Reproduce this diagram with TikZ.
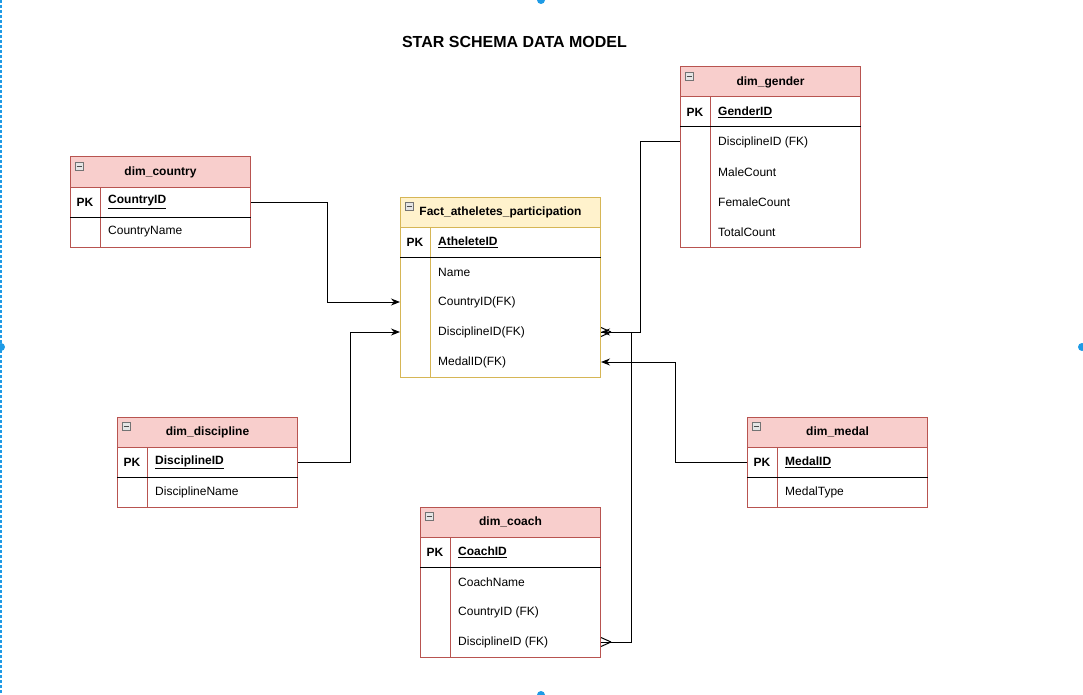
\documentclass[tikz,border=0pt]{standalone}
\usepackage{fontspec}
\setmainfont{Liberation Sans}
\usetikzlibrary{arrows.meta,calc}
\definecolor{redfill}{HTML}{F8CECC}
\definecolor{redline}{HTML}{B85450}
\definecolor{yelfill}{HTML}{FFF2CC}
\definecolor{yelline}{HTML}{D6B656}
\definecolor{selblue}{HTML}{1E9BE6}
\tikzset{
  every node/.style={font=\fontsize{12}{14}\selectfont},
  tblbox/.style={draw, fill=white, line width=1pt, inner sep=0pt, shape=rectangle},
  titletxt/.style={font=\fontsize{12}{14}\selectfont\bfseries},
  pktxt/.style={font=\fontsize{12}{14}\selectfont\bfseries},
  keytxt/.style={font=\fontsize{12}{14}\selectfont\bfseries, anchor=west, inner xsep=8pt},
  fieldtxt/.style={anchor=west, inner xsep=8pt},
  iconbox/.style={draw=black!55, fill=black!10, line width=0.8pt},
  conn/.style={draw, line width=1pt},
  arr/.style={-{Stealth[length=9pt,width=7pt]}},
}
\newcommand\ertable[8]{%
  \pgfmathsetmacro\tblH{60+30*#8}%
  \node[tblbox, draw=#7, minimum width=#4, minimum height=\tblH, anchor=north west] (#1) at (#2,#3) {};
  \draw[draw=#7, fill=#6, line width=1pt] (#1.north west) rectangle ++(#4,30);
  \draw[draw=#7, line width=1pt] ([xshift=30pt,yshift=-30pt]#1.north west) -- ([xshift=30pt]#1.south west);
  \draw[black, line width=1pt] ([yshift=-60pt]#1.north west) -- ([yshift=-60pt]#1.north east);
  \draw[iconbox] ([xshift=5pt,yshift=-5pt]#1.north west) rectangle ++(8,8);
  \draw[black!70, line width=0.8pt] ([xshift=6.5pt,yshift=-9pt]#1.north west) -- ++(5,0);
  \node[titletxt] (#1-t) at ([yshift=-15pt]#1.north) {#5};
  \node[pktxt] (#1-pk) at ([xshift=15pt,yshift=-45pt]#1.north west) {PK};
}
\begin{document}
\begin{tikzpicture}[x=1pt,y=-1pt]
\useasboundingbox[fill=white] (0,0) rectangle (1083,695);
% selection frame
\draw[selblue, line width=1.5pt, dash pattern=on 3pt off 2pt] (1,0) -- (1,695);
\fill[selblue] (541,0) circle (4);
\fill[selblue] (1,347) circle (4);
\fill[selblue] (1082,347) circle (4);
\fill[selblue] (541,695) circle (4);

\node[font=\fontsize{16}{19}\selectfont\bfseries] (title) at (514.5,42) {STAR SCHEMA DATA MODEL};

% tables
\ertable{fact}{400}{197}{200}{Fact\_atheletes\_participation}{yelfill}{yelline}{4}
\node[keytxt] (fid) at ([xshift=30pt,yshift=-45pt]fact.north west) {\underline{AtheleteID}};
\node[fieldtxt] (fname) at ([xshift=30pt,yshift=-75pt]fact.north west) {Name};
\node[fieldtxt] (fcty) at ([xshift=30pt,yshift=-105pt]fact.north west) {CountryID(FK)};
\node[fieldtxt] (fdis) at ([xshift=30pt,yshift=-135pt]fact.north west) {DisciplineID(FK)};
\node[fieldtxt] (fmed) at ([xshift=30pt,yshift=-165pt]fact.north west) {MedalID(FK)};

\ertable{country}{70}{157}{180}{dim\_country}{redfill}{redline}{1}
\node[keytxt] (cpk) at ([xshift=30pt,yshift=-45pt]country.north west) {\underline{CountryID}};
\node[fieldtxt] (cname) at ([xshift=30pt,yshift=-75pt]country.north west) {CountryName};

\ertable{gender}{680}{67}{180}{dim\_gender}{redfill}{redline}{4}
\node[keytxt] (gpk) at ([xshift=30pt,yshift=-45pt]gender.north west) {\underline{GenderID}};
\node[fieldtxt] (gdis) at ([xshift=30pt,yshift=-75pt]gender.north west) {DisciplineID (FK)};
\node[fieldtxt] (gmale) at ([xshift=30pt,yshift=-105pt]gender.north west) {MaleCount};
\node[fieldtxt] (gfem) at ([xshift=30pt,yshift=-135pt]gender.north west) {FemaleCount};
\node[fieldtxt] (gtot) at ([xshift=30pt,yshift=-165pt]gender.north west) {TotalCount};

\ertable{disc}{117}{417}{180}{dim\_discipline}{redfill}{redline}{1}
\node[keytxt] (dpk) at ([xshift=30pt,yshift=-45pt]disc.north west) {\underline{DisciplineID}};
\node[fieldtxt] (dname) at ([xshift=30pt,yshift=-75pt]disc.north west) {DisciplineName};

\ertable{medal}{747}{417}{180}{dim\_medal}{redfill}{redline}{1}
\node[keytxt] (mpk) at ([xshift=30pt,yshift=-45pt]medal.north west) {\underline{MedalID}};
\node[fieldtxt] (mtype) at ([xshift=30pt,yshift=-75pt]medal.north west) {MedalType};

\ertable{coach}{420}{507}{180}{dim\_coach}{redfill}{redline}{3}
\node[keytxt] (chpk) at ([xshift=30pt,yshift=-45pt]coach.north west) {\underline{CoachID}};
\node[fieldtxt] (chname) at ([xshift=30pt,yshift=-75pt]coach.north west) {CoachName};
\node[fieldtxt] (chcty) at ([xshift=30pt,yshift=-105pt]coach.north west) {CountryID (FK)};
\node[fieldtxt] (chdis) at ([xshift=30pt,yshift=-135pt]coach.north west) {DisciplineID (FK)};

% connectors
\draw[conn, arr] (country.east |- cpk.west) -- ++(76,0) |- (fact.west |- fcty.west);
\draw[conn, arr] (disc.east |- dpk.west) -- ++(52,0) |- (fact.west |- fdis.west);
\draw[conn, arr] (gender.west |- gdis.west) -- ++(-40,0) |- (fact.east |- fdis.west);
\draw[conn, arr] (medal.west |- mpk.west) -- ++(-72,0) |- (fact.east |- fmed.west);
\draw[conn] (coach.east |- chdis.west) -- ++(30,0) |- (fact.east |- fdis.west);
% crow's feet
\draw[conn] ([xshift=10pt]coach.east |- chdis.west) -- ([yshift=4.5pt]coach.east |- chdis.west);
\draw[conn] ([xshift=10pt]coach.east |- chdis.west) -- ([yshift=-4.5pt]coach.east |- chdis.west);
\draw[conn] ([xshift=10pt]fact.east |- fdis.west) -- ([yshift=4.5pt]fact.east |- fdis.west);
\draw[conn] ([xshift=10pt]fact.east |- fdis.west) -- ([yshift=-4.5pt]fact.east |- fdis.west);
\end{tikzpicture}
\end{document}
